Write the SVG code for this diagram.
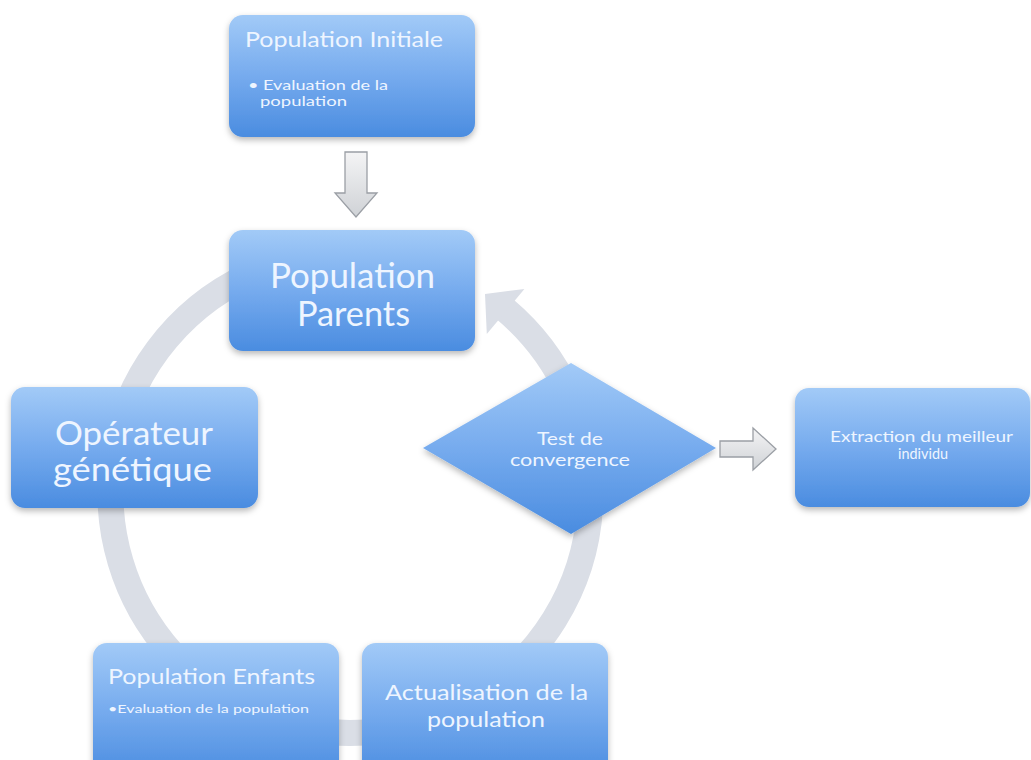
<svg xmlns="http://www.w3.org/2000/svg" width="1031" height="760" viewBox="0 0 1031 760">
  <defs>
    <linearGradient id="boxGrad" x1="0" y1="0" x2="0" y2="1">
      <stop offset="0" stop-color="#a2caf7"/>
      <stop offset="0.5" stop-color="#76abee"/>
      <stop offset="1" stop-color="#4a8ce0"/>
    </linearGradient>
    <linearGradient id="greyGrad" x1="0" y1="0" x2="0" y2="1">
      <stop offset="0" stop-color="#f4f4f5"/>
      <stop offset="1" stop-color="#cfd2d6"/>
    </linearGradient>
    <filter id="sh" x="-10%" y="-10%" width="120%" height="130%">
      <feDropShadow dx="0" dy="3" stdDeviation="3" flood-color="#000" flood-opacity="0.28"/>
    </filter>
    <style>
      .box { fill: url(#boxGrad); filter: url(#sh); }
      .t { font-family: Lato, "Open Sans", sans-serif; fill: #eef5ff; }
      .ring { fill: none; stroke: #dadee6; stroke-width: 26; }
      .ringHead { fill: #dadee6; }
      .garrow { fill: url(#greyGrad); stroke: #9b9fa5; stroke-width: 1.3; stroke-linejoin: miter; }
    </style>
  </defs>
  <rect width="1031" height="760" fill="#ffffff"/>

  <g id="connectors">
    <path class="ring" d="M 350 253 A 240 240 0 1 0 505.6 309.9"/>
    <path class="ringHead" d="M 524.4 289 L 485 294 L 486.8 334 Z"/>
    <path class="garrow" d="M345,152 H367 V193 H377 L356,217 L335,193 H345 Z"/>
    <path class="garrow" d="M720,441 H753 V428 L776,449 L753,470 V457 H720 Z"/>
  </g>

  <g id="node-initiale">
    <rect class="box" x="229" y="15" width="246" height="122" rx="14"/>
    <text class="t" x="245" y="47" font-size="21" textLength="198" lengthAdjust="spacingAndGlyphs">Population Initiale</text>
    <text class="t" x="248" y="90" font-size="14" textLength="140" lengthAdjust="spacingAndGlyphs">• Evaluation de la</text>
    <text class="t" x="260" y="106" font-size="14" textLength="87" lengthAdjust="spacingAndGlyphs">population</text>
  </g>

  <g id="node-parents">
    <rect class="box" x="229" y="230" width="246" height="121" rx="14"/>
    <text class="t" x="270" y="288" font-size="34" textLength="165" lengthAdjust="spacingAndGlyphs">Population</text>
    <text class="t" x="297" y="326" font-size="34" textLength="113" lengthAdjust="spacingAndGlyphs">Parents</text>
  </g>

  <g id="node-operateur">
    <rect class="box" x="11" y="387" width="247" height="121" rx="14"/>
    <text class="t" x="55" y="445" font-size="32" textLength="158" lengthAdjust="spacingAndGlyphs">Opérateur</text>
    <text class="t" x="53" y="481" font-size="32" textLength="159" lengthAdjust="spacingAndGlyphs">génétique</text>
  </g>

  <g id="node-test">
    <path class="box" d="M423,448 L571,363 L716,448 L571,534 Z"/>
    <text class="t" x="537" y="445" font-size="18" textLength="66" lengthAdjust="spacingAndGlyphs">Test de</text>
    <text class="t" x="510" y="466" font-size="18" textLength="120" lengthAdjust="spacingAndGlyphs">convergence</text>
  </g>

  <g id="node-extraction">
    <rect class="box" x="795" y="388" width="235" height="119" rx="14"/>
    <text class="t" x="830" y="442" font-size="15" textLength="183" lengthAdjust="spacingAndGlyphs">Extraction du meilleur</text>
    <text class="t" x="898" y="459" font-size="15" textLength="50" lengthAdjust="spacingAndGlyphs">individu</text>
  </g>

  <g id="node-enfants">
    <rect class="box" x="93" y="643" width="246" height="135" rx="14"/>
    <text class="t" x="108" y="684" font-size="21" textLength="207" lengthAdjust="spacingAndGlyphs">Population Enfants</text>
    <text class="t" x="108" y="713" font-size="12" textLength="201" lengthAdjust="spacingAndGlyphs">•Evaluation de la population</text>
  </g>

  <g id="node-actualisation">
    <rect class="box" x="362" y="643" width="246" height="135" rx="14"/>
    <text class="t" x="385" y="700" font-size="22" textLength="203" lengthAdjust="spacingAndGlyphs">Actualisation de la</text>
    <text class="t" x="427" y="727" font-size="22" textLength="118" lengthAdjust="spacingAndGlyphs">population</text>
  </g>
</svg>
